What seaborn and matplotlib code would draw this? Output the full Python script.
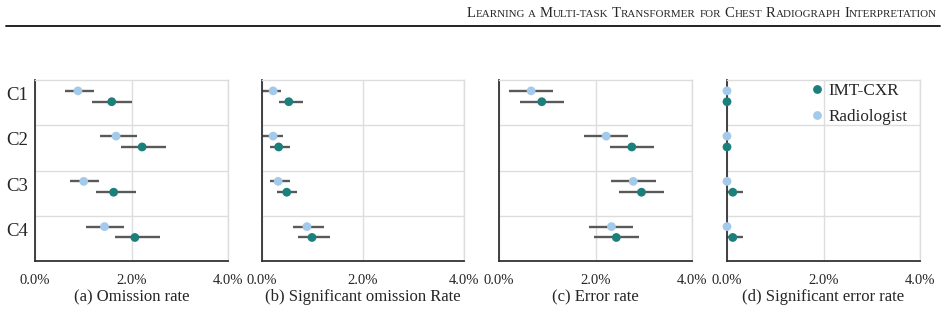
import matplotlib
matplotlib.use("Agg")
import matplotlib.pyplot as plt
from matplotlib.lines import Line2D
import pandas as pd
import seaborn as sns

# categories and panel captions
categories = ["C1", "C2", "C3", "C4"]
captions = ["(a) Omission rate", "(b) Significant omission Rate",
            "(c) Error rate", "(d) Significant error rate"]
series_names = ["IMT-CXR", "Radiologist"]

# values in percent: mean, lower, upper per category
imt_mean = [[1.59, 2.22, 1.63, 2.07], [0.53, 0.33, 0.49, 0.99],
            [0.89, 2.75, 2.95, 2.43], [0.00, 0.00, 0.12, 0.12]]
imt_lo = [[1.19, 1.78, 1.26, 1.66], [0.33, 0.16, 0.30, 0.72],
          [0.43, 2.29, 2.49, 1.97], [0.00, 0.00, 0.00, 0.00]]
imt_hi = [[2.01, 2.72, 2.09, 2.59], [0.82, 0.55, 0.69, 1.34],
          [1.35, 3.21, 3.41, 2.89], [0.00, 0.00, 0.34, 0.34]]
rad_mean = [[0.89, 1.68, 1.01, 1.44], [0.22, 0.22, 0.32, 0.89],
            [0.67, 2.22, 2.78, 2.33], [0.00, 0.00, 0.00, 0.00]]
rad_lo = [[0.62, 1.34, 0.73, 1.06], [0.00, 0.00, 0.16, 0.61],
          [0.22, 1.77, 2.32, 1.87], [0.00, 0.00, 0.00, 0.00]]
rad_hi = [[1.23, 2.12, 1.33, 1.84], [0.38, 0.42, 0.55, 1.22],
          [1.12, 2.67, 3.24, 2.78], [0.00, 0.00, 0.00, 0.00]]

xticks = [0, 2, 4]
xtick_labels = ["0.0%", "2.0%", "4.0%"]

colors = {"IMT-CXR": "#1b7f7b", "Radiologist": "#a3c9eb"}
bar_color = "#595959"
grid_color = "#dddddd"

sns.set_style("white")
plt.rcParams["font.family"] = ["Liberation Serif", "DejaVu Serif"]

W, H = 948, 322
fig = plt.figure(figsize=(W / 100, H / 100), dpi=100)

# axes boxes in pixels: left, width
boxes = [(35, 193), (262, 202), (498.7, 193.6), (727, 193)]
top_px, bottom_px = 80, 261

offsets = {"IMT-CXR": -0.02, "Radiologist": -0.26}

for i, (left, width) in enumerate(boxes):
    ax = fig.add_axes([left / W, (H - bottom_px) / H, width / W,
                       (bottom_px - top_px) / H])
    rows = []
    for k in range(len(categories)):
        rows.append(("IMT-CXR", k + offsets["IMT-CXR"], imt_mean[i][k],
                     imt_lo[i][k], imt_hi[i][k]))
        rows.append(("Radiologist", k + offsets["Radiologist"], rad_mean[i][k],
                     rad_lo[i][k], rad_hi[i][k]))
    df = pd.DataFrame(rows, columns=["group", "pos", "value", "lo", "hi"])

    ax.hlines(df["pos"], df["lo"], df["hi"], color=bar_color, lw=1.7,
              zorder=2)
    sns.scatterplot(data=df, x="value", y="pos", hue="group",
                    hue_order=series_names, palette=colors, s=40,
                    edgecolor="none", ax=ax, zorder=3, clip_on=False,
                    legend=(i == 3))

    ax.set_xlim(0, 4)
    ax.set_ylim(3.5, -0.5)
    ax.set_xticks(xticks)
    ax.set_xticklabels(xtick_labels, fontsize=10.5)
    ax.set_yticks([k - 0.2 for k in range(len(categories))])
    if i == 0:
        ax.set_yticklabels(categories, fontsize=13.5)
    else:
        ax.set_yticklabels([])
    ax.set_yticks([0.5, 1.5, 2.5], minor=True)
    ax.tick_params(which="both", length=0)
    ax.tick_params(axis="x", pad=9)
    ax.tick_params(axis="y", pad=5)
    ax.grid(False)
    ax.grid(axis="x", which="major", color=grid_color, lw=1)
    ax.grid(axis="y", which="minor", color=grid_color, lw=1)
    ax.set_xlabel("")
    ax.set_ylabel("")
    for side in ["left", "bottom"]:
        ax.spines[side].set_color("#333333")
        ax.spines[side].set_linewidth(1.3)
    for side in ["top", "right"]:
        ax.spines[side].set_color(grid_color)
        ax.spines[side].set_linewidth(1)

    fig.text((left + width / 2) / W, (H - 297) / H, captions[i],
             ha="center", va="center", fontsize=12)

    if i == 3:
        ax.legend(loc="upper left", bbox_to_anchor=(0.38, 1.02),
                  frameon=False, fontsize=12.3, handletextpad=0.05,
                  labelspacing=0.6, borderaxespad=0, handlelength=1.2)

# running head in small caps, built right to left
header_words = ["LEARNING", "A", "MULTI-TASK", "TRANSFORMER", "FOR", "CHEST",
                "RADIOGRAPH", "INTERPRETATION"]
big_initial = [True, False, True, True, False, True, True, True]
renderer = fig.canvas.get_renderer()
x_right = 937
base_y = (H - 17) / H
for word, big in zip(reversed(header_words), reversed(big_initial)):
    parts = [(word[0], 10.6), (word[1:], 7.9)] if big else [(word, 7.9)]
    for text, size in reversed(parts):
        if not text:
            continue
        t = fig.text(x_right / W, base_y, text, ha="right", va="baseline",
                     fontsize=size)
        x_right = t.get_window_extent(renderer).x0
    x_right -= 3.6

fig.add_artist(Line2D([6 / W, 940 / W], [(H - 26) / H] * 2, color="#111111",
                      lw=1.3))

fig.savefig("out.png", dpi=100)
